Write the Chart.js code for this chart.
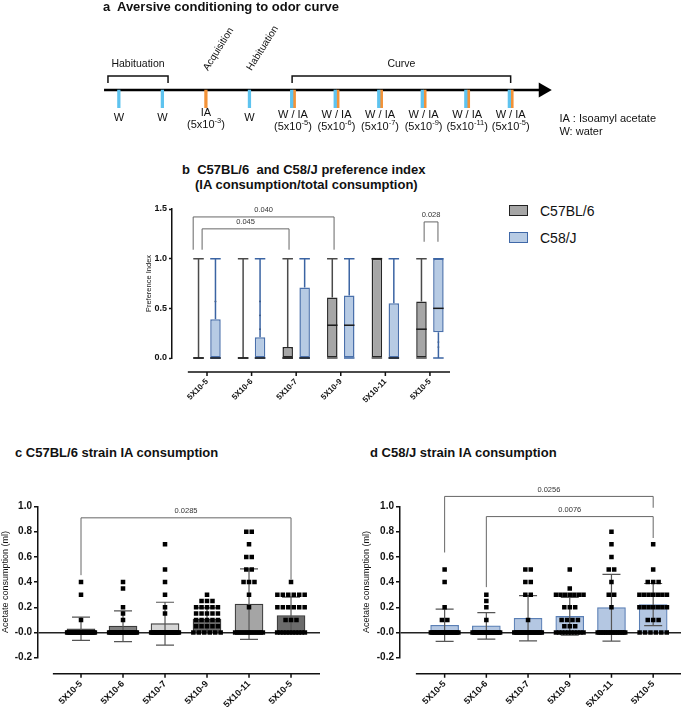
<!DOCTYPE html>
<html lang="en">
<head>
<meta charset="UTF-8">
<title>Aversive conditioning to odor curve</title>
<script src="https://cdn.jsdelivr.net/npm/chart.js@4.4.1/dist/chart.umd.min.js"></script>
<style>
  body { margin: 0; background: #fff; }
  #page { position: relative; width: 685px; height: 708px; overflow: hidden;
          font-family: 'Liberation Sans', Arial, Helvetica, sans-serif; color: #111; }
  #page canvas, .txt, .key { position: absolute; }
  .ttl { font-weight: bold; font-size: 13px; line-height: 15px; white-space: pre; }
  .lbl { font-size: 14px; line-height: 16px; white-space: pre; }
  .key { width: 17px; height: 9px; border: 1.5px solid; }
</style>
</head>
<body>
<div id="page">
  <canvas id="chartA" width="685" height="150" style="left:0;top:0"></canvas>
  <div class="txt ttl" style="left:103px;top:-1px">a  Aversive conditioning to odor curve</div>

  <div class="txt ttl" style="left:182px;top:162px">b  C57BL/6  and C58/J preference index</div>
  <div class="txt ttl" style="left:195px;top:177px">(IA consumption/total consumption)</div>
  <canvas id="chartB" width="320" height="227" style="left:140px;top:198px"></canvas>
  <div class="key" style="left:509px;top:205px;background:#a6a6a6;border-color:#222"></div>
  <div class="txt lbl" style="left:540px;top:203px">C57BL/6</div>
  <div class="key" style="left:509px;top:232px;background:#b7cbe4;border-color:#3f68a8"></div>
  <div class="txt lbl" style="left:540px;top:230px">C58/J</div>

  <div class="txt ttl" style="left:15px;top:445px">c C57BL/6 strain IA consumption</div>
  <canvas id="chartC" width="330" height="228" style="left:0;top:480px"></canvas>
  <div class="txt ttl" style="left:370px;top:445px">d C58/J strain IA consumption</div>
  <canvas id="chartD" width="324" height="228" style="left:361px;top:480px"></canvas>
</div>

<script>
// ---- data ----
// a: protocol timeline
const dayLabels = ['W', 'W', 'IA', 'W', 'W / IA', 'W / IA', 'W / IA', 'W / IA', 'W / IA', 'W / IA'];
const dayExponents = [null, null, '-3', null, '-5', '-6', '-7', '-9', '-11', '-5'];
const phaseMarks = [{ day: 2, text: 'Acquisition' }, { day: 3, text: 'Habituation' }];
const phaseSpans = [{ start: -0.25, end: 1.13, text: 'Habituation' }, { start: 3.98, end: 9.0, text: 'Curve' }];
const keyLines = ['IA : Isoamyl acetate', 'W: water'];

// b: preference index box plots
const doses = ['5X10-5', '5X10-6', '5X10-7', '5X10-9', '5X10-11', '5X10-5'];
const c57Min = [0, 0, 0, 0, 0, 0];
const c57Q1 = [0, 0, 0, 0, 0, 0];
const c57Median = [0, 0, 0, 0.33, 1, 0.29];
const c57Q3 = [0, 0, 0.11, 0.61, 1, 0.57];
const c57Max = [1, 1, 1, 1, 1, 1];
const c58Min = [0, 0, 0, 0, 0, 0];
const c58Q1 = [0, 0, 0, 0, 0, 0.26];
const c58Median = [0, 0, 0, 0.33, 0, 0.5];
const c58Q3 = [0.39, 0.21, 0.71, 0.63, 0.55, 1];
const c58Max = [1, 1, 1, 1, 1, 1];
const c57PiDots = [[], [], [], [0.56, 0.51, 0.44, 0.2, 0.15, 0.11, 0.06], [0.29], [0.5, 0.4, 0.34, 0.25, 0.2]];
const c58PiDots = [[0.57, 0.29, 0.2], [0.57, 0.43, 0.29], [0.6, 0.34, 0.23], [0.6, 0.5, 0.43, 0.33, 0.23, 0.15, 0.08],
                   [0.5, 0.4, 0.39, 0.34], [0.88, 0.77, 0.56, 0.39, 0.37, 0.29, 0.16, 0.11]];
const bracketsB = [
  { from: -0.31, to: 2.85, top: 1.42, leftEnd: 1.09, rightEnd: 1.09, label: '0.040' },
  { from: -0.11, to: 1.84, top: 1.30, leftEnd: 1.09, rightEnd: 1.09, label: '0.045' },
  { from: 4.87, to: 5.18, top: 1.37, leftEnd: 1.17, rightEnd: 1.17, label: '0.028' }
];

// c: C57BL/6 consumption (mean, SD, individual values as [value, count])
const c57Mean = [0.03, 0.05, 0.07, 0.105, 0.225, 0.135];
const c57Sd = [0.092, 0.122, 0.17, 0.09, 0.28, 0.145];
const c57Dots = [
  [[0.4, 1], [0.3, 1], [0.1, 1], [0, 23]],
  [[0.4, 1], [0.35, 1], [0.2, 1], [0.15, 1], [0.1, 1], [0, 21]],
  [[0.7, 1], [0.5, 1], [0.4, 1], [0.3, 1], [0.2, 1], [0.15, 1], [0, 24]],
  [[0.3, 1], [0.25, 3], [0.2, 5], [0.15, 5], [0.1, 5], [0.05, 5], [0, 6]],
  [[0.8, 2], [0.7, 1], [0.6, 2], [0.5, 2], [0.4, 3], [0.3, 1], [0.2, 1], [0, 14]],
  [[0.4, 1], [0.3, 6], [0.2, 6], [0.1, 3], [0, 10]]
];
const c57Fills = ['#5a5a5a', '#808080', '#d6d6d6', '#6a6a6a', '#a5a5a5', '#6b6b6b'];
const bracketsC = [{ from: 0, to: 5, top: 0.91, leftEnd: 0.455, rightEnd: 0.42, label: '0.0285' }];

// d: C58/J consumption
const c58Mean = [0.057, 0.052, 0.113, 0.128, 0.197, 0.222];
const c58Sd = [0.128, 0.105, 0.18, 0.15, 0.265, 0.167];
const c58Dots = [
  [[0.5, 1], [0.4, 1], [0.2, 1], [0.1, 2], [0, 20]],
  [[0.3, 1], [0.25, 1], [0.2, 1], [0.1, 1], [0, 21]],
  [[0.5, 2], [0.4, 2], [0.3, 2], [0.1, 1], [0, 20]],
  [[0.5, 1], [0.35, 1], [0.3, 7], [0.2, 3], [0.1, 4], [0.05, 3], [0, 10]],
  [[0.8, 1], [0.7, 1], [0.6, 1], [0.5, 2], [0.4, 1], [0.3, 2], [0.2, 1], [0, 17]],
  [[0.7, 1], [0.5, 1], [0.4, 3], [0.3, 7], [0.2, 7], [0.1, 3], [0, 6]]
];
const bracketsD = [
  { from: 0, to: 5, top: 1.08, leftEnd: 0.635, rightEnd: 0.99, label: '0.0256' },
  { from: 1, to: 5, top: 0.92, leftEnd: 0.36, rightEnd: 0.75, label: '0.0076' }
];

// ---- setup ----
const FONT = "'Liberation Sans', Arial, Helvetica, sans-serif";
Chart.defaults.font.family = FONT;
Chart.defaults.color = '#111';
Chart.defaults.animation = false;
Chart.defaults.responsive = false;
Chart.defaults.plugins.legend.display = false;
Chart.defaults.plugins.tooltip.enabled = false;

// ---- a: timeline ----
const axisRow = 92, tickEnd = 112, spanTop = 76, spanFoot = 84;

function drawPower(ctx, exp, cx, cy) {
  ctx.font = '11px ' + FONT;
  const wa = ctx.measureText('(5x10').width, wc = ctx.measureText(')').width;
  ctx.font = '7.5px ' + FONT;
  const wb = ctx.measureText(exp).width;
  const left = cx - (wa + wb + wc) / 2;
  ctx.textAlign = 'left';
  ctx.font = '11px ' + FONT;
  ctx.fillText('(5x10', left, cy);
  ctx.fillText(')', left + wa + wb, cy);
  ctx.font = '7.5px ' + FONT;
  ctx.fillText(exp, left + wa, cy - 4);
  ctx.textAlign = 'center';
}

const timelineText = {
  id: 'timelineText',
  afterDatasetsDraw(chart) {
    const { ctx, scales: { x, y } } = chart;
    ctx.save();
    ctx.fillStyle = '#111';
    ctx.textAlign = 'center';
    ctx.textBaseline = 'middle';
    dayLabels.forEach((lab, i) => {
      const px = x.getPixelForValue(i);
      const exp = dayExponents[i];
      ctx.font = '11px ' + FONT;
      if (!exp) { ctx.fillText(lab, px, y.getPixelForValue(124)); return; }
      const row = lab === 'IA' ? 118 : 120;
      ctx.fillText(lab, px, y.getPixelForValue(row));
      drawPower(ctx, exp, px, y.getPixelForValue(row + 14));
    });
    ctx.font = '10.5px ' + FONT;
    phaseSpans.forEach(s => {
      ctx.fillText(s.text, x.getPixelForValue((s.start + s.end) / 2), y.getPixelForValue(63));
    });
    ctx.font = '10px ' + FONT;
    phaseMarks.forEach(m => {
      ctx.save();
      ctx.translate(x.getPixelForValue(m.day) + 4, y.getPixelForValue(72));
      ctx.rotate(-58 * Math.PI / 180);
      ctx.textAlign = 'left';
      ctx.textBaseline = 'bottom';
      ctx.fillText(m.text, 0, 0);
      ctx.restore();
    });
    ctx.font = '11px ' + FONT;
    ctx.textAlign = 'left';
    keyLines.forEach((t, k) => ctx.fillText(t, x.getPixelForValue(10.12), y.getPixelForValue(125 + k * 14)));
    ctx.restore();
  }
};

new Chart(document.getElementById('chartA'), {
  type: 'bar',
  data: {
    datasets: [
      { label: 'W', data: dayLabels.map((l, i) => ({ x: i, y: l.includes('W') ? [axisRow, tickEnd] : null })),
        backgroundColor: '#5ec3ef', barThickness: 2.6, skipNull: true },
      { label: 'IA', data: dayLabels.map((l, i) => ({ x: i, y: l.includes('IA') ? [axisRow, tickEnd] : null })),
        backgroundColor: '#f39237', barThickness: 2.6, skipNull: true },
      { type: 'line', data: [{ x: -0.34, y: axisRow }, { x: 9.66, y: axisRow }],
        borderColor: '#000', borderWidth: 2.6, pointRadius: 0 },
      { type: 'scatter', data: [{ x: 9.745, y: axisRow }], pointStyle: 'triangle', pointRotation: 90,
        pointRadius: 8.7, pointBackgroundColor: '#000', pointBorderWidth: 0 },
      ...phaseSpans.map(s => ({
        type: 'line',
        data: [{ x: s.start, y: spanFoot }, { x: s.start, y: spanTop }, { x: s.end, y: spanTop }, { x: s.end, y: spanFoot }],
        borderColor: '#111', borderWidth: 1.5, pointRadius: 0, borderJoinStyle: 'miter'
      }))
    ]
  },
  options: {
    layout: { padding: 0 },
    scales: {
      x: { type: 'linear', display: false, min: -2.53, max: 12.805, offset: false },
      y: { display: false, min: 0, max: 150, reverse: true }
    }
  },
  plugins: [timelineText]
});

// ---- shared helpers ----
const offsetAxis = (gap, from, to) => ({
  id: 'offsetAxis',
  afterDraw(chart) {
    const { ctx, chartArea, scales: { x } } = chart;
    const yy = chartArea.bottom + gap;
    ctx.save();
    ctx.strokeStyle = '#111';
    ctx.lineWidth = 1.5;
    ctx.beginPath();
    ctx.moveTo(x.getPixelForValue(from), yy);
    ctx.lineTo(x.getPixelForValue(to), yy);
    x.ticks.forEach(t => {
      const px = x.getPixelForValue(t.value);
      ctx.moveTo(px, yy);
      ctx.lineTo(px, yy + 4);
    });
    ctx.stroke();
    ctx.restore();
  }
});

const sigBrackets = list => ({
  id: 'sigBrackets',
  afterDatasetsDraw(chart) {
    const { ctx, scales: { x, y } } = chart;
    ctx.save();
    ctx.strokeStyle = '#666';
    ctx.lineWidth = 1;
    ctx.fillStyle = '#333';
    ctx.font = '7.5px ' + FONT;
    ctx.textAlign = 'center';
    ctx.textBaseline = 'bottom';
    list.forEach(b => {
      const x1 = x.getPixelForValue(b.from), x2 = x.getPixelForValue(b.to), yt = y.getPixelForValue(b.top);
      ctx.beginPath();
      ctx.moveTo(x1, y.getPixelForValue(b.leftEnd));
      ctx.lineTo(x1, yt);
      ctx.lineTo(x2, yt);
      ctx.lineTo(x2, y.getPixelForValue(b.rightEnd));
      ctx.stroke();
      ctx.fillText(b.label, (x1 + x2) / 2, yt - 3);
    });
    ctx.restore();
  }
});

const categoryTicks = s => { s.ticks = doses.map((_, i) => ({ value: i })); };

// ---- b: preference index ----
const boxStats = [
  { min: c57Min, q1: c57Q1, median: c57Median, q3: c57Q3, max: c57Max, whisker: '#4a4a4a' },
  { min: c58Min, q1: c58Q1, median: c58Median, q3: c58Q3, max: c58Max, whisker: '#3b64a3' }
];

const boxWhiskers = {
  id: 'boxWhiskers',
  afterDatasetsDraw(chart) {
    const { ctx } = chart, y = chart.scales.y;
    ctx.save();
    ctx.lineWidth = 1.5;
    boxStats.forEach((s, di) => {
      chart.getDatasetMeta(di).data.forEach((bar, i) => {
        const half = bar.width / 2, x = bar.x;
        ctx.strokeStyle = s.whisker;
        ctx.beginPath();
        ctx.moveTo(x, y.getPixelForValue(s.min[i]));
        ctx.lineTo(x, y.getPixelForValue(s.q1[i]));
        ctx.moveTo(x, y.getPixelForValue(s.q3[i]));
        ctx.lineTo(x, y.getPixelForValue(s.max[i]));
        [s.min[i], s.max[i]].forEach(v => {
          const p = y.getPixelForValue(v);
          ctx.moveTo(x - half, p);
          ctx.lineTo(x + half, p);
        });
        ctx.stroke();
        const pm = y.getPixelForValue(s.median[i]);
        ctx.strokeStyle = '#1a1a1a';
        ctx.beginPath();
        ctx.moveTo(x - half, pm);
        ctx.lineTo(x + half, pm);
        ctx.stroke();
      });
    });
    ctx.restore();
  }
};

const piDots = [];
[[c57PiDots, -0.19], [c58PiDots, 0.19]].forEach(([groups, side]) =>
  groups.forEach((vals, i) => vals.forEach(v => piDots.push({ x: i + side, y: v }))));

new Chart(document.getElementById('chartB'), {
  type: 'bar',
  data: {
    datasets: [
      { label: 'C57BL/6', data: doses.map((_, i) => ({ x: i, y: [c57Q1[i], c57Q3[i]] })),
        backgroundColor: '#a6a6a6', borderColor: '#262626', borderWidth: 1.5, borderSkipped: false,
        categoryPercentage: 0.76, barPercentage: 0.62 },
      { label: 'C58/J', data: doses.map((_, i) => ({ x: i, y: [c58Q1[i], c58Q3[i]] })),
        backgroundColor: '#b7cbe4', borderColor: '#4a70ab', borderWidth: 1.5, borderSkipped: false,
        categoryPercentage: 0.76, barPercentage: 0.62 },
      { type: 'scatter', data: piDots, pointRadius: 0.9, pointBackgroundColor: '#333', pointBorderWidth: 0 }
    ]
  },
  options: {
    layout: { padding: { top: 11, right: 10, left: 0, bottom: 0 } },
    scales: {
      x: {
        type: 'linear', min: -0.785, max: 5.45, offset: false, afterBuildTicks: categoryTicks,
        ticks: { callback: (v, i) => doses[i], autoSkip: false, minRotation: 45, maxRotation: 45,
                 padding: 19, font: { size: 8, weight: 'bold' } },
        grid: { display: false, drawTicks: false }, border: { display: false },
        afterFit: s => { s.height = 67; }
      },
      y: {
        min: 0, max: 1.5,
        ticks: { stepSize: 0.5, callback: v => v.toFixed(1), padding: 2, font: { size: 9, weight: 'bold' } },
        grid: { drawOnChartArea: false, tickLength: 3, tickColor: '#111', tickWidth: 1.5 },
        border: { color: '#111', width: 1.5 },
        title: { display: true, text: 'Preference Index', font: { size: 7.5 }, padding: { top: 4, bottom: 0 } },
        afterFit: s => { s.width = 32; }
      }
    }
  },
  plugins: [boxWhiskers, sigBrackets(bracketsB), offsetAxis(14, -0.43, 5.45)]
});

// ---- c / d: consumption ----
function consumptionChart(id, means, sds, dots, fills, edge, brackets, xMin, xMax, lineFrom, padRight) {
  const dotData = [];
  dots.forEach((group, i) => group.forEach(([v, n]) => {
    const step = n > 1 ? Math.min(0.13, 0.66 / (n - 1)) : 0;
    for (let k = 0; k < n; k++) dotData.push({ x: i + (k - (n - 1) / 2) * step, y: v });
  }));

  const errorBars = {
    id: 'errorBars',
    afterDatasetDraw(chart, args) {
      if (args.meta.type !== 'bar') return;
      const { ctx } = chart, y = chart.scales.y;
      ctx.save();
      ctx.strokeStyle = '#555';
      ctx.lineWidth = 1.2;
      args.meta.data.forEach((bar, i) => {
        const yt = y.getPixelForValue(means[i] + sds[i]), yb = y.getPixelForValue(means[i] - sds[i]);
        ctx.beginPath();
        ctx.moveTo(bar.x, yt); ctx.lineTo(bar.x, yb);
        ctx.moveTo(bar.x - 9, yt); ctx.lineTo(bar.x + 9, yt);
        ctx.moveTo(bar.x - 9, yb); ctx.lineTo(bar.x + 9, yb);
        ctx.stroke();
      });
      ctx.restore();
    }
  };

  return new Chart(document.getElementById(id), {
    type: 'bar',
    data: {
      datasets: [
        { data: means.map((m, i) => ({ x: i, y: m })), backgroundColor: fills, borderColor: edge,
          borderWidth: 1.2, barThickness: 28, order: 2 },
        { type: 'scatter', data: dotData, pointStyle: 'rect', pointRadius: 3.2,
          pointBackgroundColor: '#000', pointBorderWidth: 0, order: 1 }
      ]
    },
    options: {
      layout: { padding: { top: 26.5, right: padRight, left: 0, bottom: 0 } },
      scales: {
        x: {
          type: 'linear', min: xMin, max: xMax, offset: false, afterBuildTicks: categoryTicks,
          ticks: { callback: (v, i) => doses[i], autoSkip: false, minRotation: 45, maxRotation: 45,
                   padding: 21, font: { size: 9, weight: 'bold' } },
          grid: { display: false, drawTicks: false }, border: { display: false },
          afterFit: s => { s.height = 50.3; }
        },
        y: {
          min: -0.2, max: 1.0,
          ticks: { stepSize: 0.2, callback: v => v.toFixed(1), padding: 2, font: { size: 10, weight: 'bold' } },
          grid: { drawOnChartArea: true, tickLength: 4, tickColor: '#111', tickWidth: 1.5, lineWidth: 1.5,
                  color: c => Math.abs(c.tick.value) < 1e-9 ? '#222' : 'rgba(0,0,0,0)' },
          border: { color: '#111', width: 1.5 },
          title: { display: true, text: 'Acetate consumption (ml)', font: { size: 9 }, padding: { top: 0, bottom: 0 } },
          afterFit: s => { s.width = id === 'chartC' ? 38 : 39; }
        }
      }
    },
    plugins: [errorBars, sigBrackets(brackets), offsetAxis(16, lineFrom, xMax)]
  });
}

consumptionChart('chartC', c57Mean, c57Sd, c57Dots, c57Fills, '#3a3a3a', bracketsC, -1.024, 5.69, -0.67, 10);
consumptionChart('chartD', c58Mean, c58Sd, c58Dots, '#b4c7e2', '#5a7fb5', bracketsD, -1.07, 5.667, -0.69, 2);
</script>
</body>
</html>
